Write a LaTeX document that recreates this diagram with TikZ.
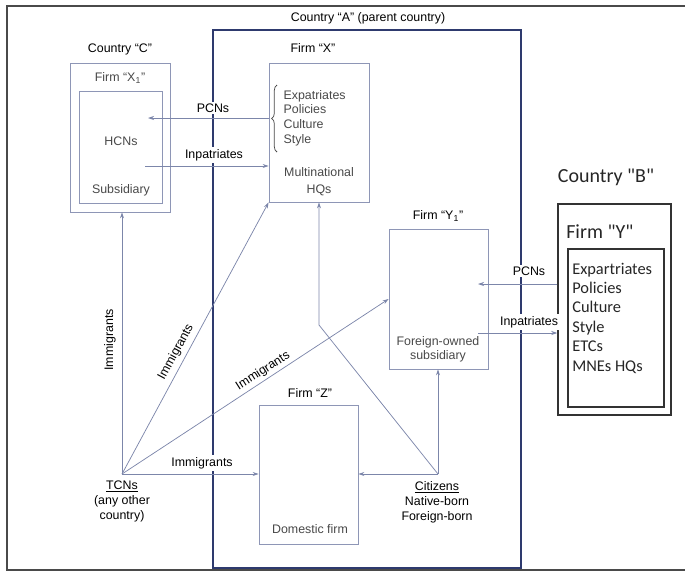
\documentclass[tikz,border=0pt]{standalone}
\usepackage{fontspec}
\setmainfont{Liberation Sans}
\newfontfamily\calib{Carlito}
\usetikzlibrary{arrows.meta,decorations.pathreplacing,fit,calc}
\definecolor{boxc}{HTML}{8E96B6}
\definecolor{navy}{HTML}{2E3A6E}
\definecolor{linec}{HTML}{7C86AA}
\definecolor{txtg}{HTML}{484848}
\definecolor{framec}{HTML}{4A4A4A}
\begin{document}
\begin{tikzpicture}[x=0.75pt,y=-0.75pt,
  box/.style={draw=boxc, line width=0.6pt, inner sep=0pt},
  bbox/.style={draw=black!80, line width=1.1pt, inner sep=0pt},
  lbl/.style={font=\fontsize{9.3}{11}\selectfont, text=black, inner sep=1pt},
  gtxt/.style={font=\fontsize{9.3}{11}\selectfont, text=txtg, inner sep=1pt},
  onl/.style={lbl, fill=white, inner sep=1.5pt},
  conn/.style={draw=linec, line width=0.55pt},
  arr/.style={conn, -{Stealth[length=4.5pt,width=3pt]}},
  btxt/.style={font=\calib\fontsize{15}{17}\selectfont, text=black!85, inner sep=0pt}
]
\useasboundingbox (0,0) rectangle (685,572);
% outer frame
\draw[framec, line width=1pt] (685,6) -- (7,6) -- (7,570) -- (685,570);
% boxes
\node[fit={(213,30) (521,568)}, draw=navy, line width=1.2pt, inner sep=0pt] (A) {};
\node[box, fit={(70,63) (170,212)}] (Cout) {};
\node[box, fit={(79,91) (162,203)}] (Cin) {};
\node[box, fit={(269,63) (369,202)}] (X) {};
\node[box, fit={(389,229) (488,369)}] (Y1) {};
\node[box, fit={(259,405) (358,544)}] (Z) {};
\node[bbox, fit={(558,204) (671,415)}] (Bout) {};
\node[bbox, fit={(568,249) (664,407)}] (Bin) {};

% coordinates
\coordinate (tcn) at (122,474);
\coordinate (cit) at (438,474);
\coordinate (bend) at (319,325);
\coordinate (pcxend) at (148,118);
\coordinate (inxst) at (145,166);
\coordinate (pcyend) at (478,284);
\coordinate (inyst) at (478,333);

% connectors
\draw[arr] (X.west |- pcxend) -- (pcxend);
\draw[arr] (inxst) -- (X.west |- inxst);
\draw[arr] (tcn) -- (tcn |- Cout.south);
\draw[arr] (tcn) -- (X.south west);
\draw[arr] (tcn) -- (Y1.west);
\draw[arr] (tcn) -- (tcn -| Z.west);
\draw[arr] (cit) -- (cit -| Z.east);
\draw[arr] (cit) -- (cit |- Y1.south);
\draw[arr] (cit) -- (bend) -- (bend |- X.south);
\draw[arr] (Bout.west |- pcyend) -- (pcyend);
\draw[arr] (inyst) -- (Bout.west |- inyst);

% brace
\draw[conn, draw=txtg, decorate, decoration={brace, amplitude=4pt}] (277,152) -- (277,85);

% labels
\node[lbl] (labA) at (368,18) {Country “A” (parent country)};
\node[lbl] (labC) at (120,49) {Country “C”};
\node[gtxt] (labX1) at (120,78) {Firm “X\textsubscript{1}”};
\node[gtxt] (hcn) at (121,141) {HCNs};
\node[gtxt] (subs) at (121,190) {Subsidiary};
\node[lbl] (labX) at (313,48) {Firm “X”};
\node[gtxt, anchor=west, align=left, font=\fontsize{9.3}{10.9}\selectfont] (xlist) at (282,118) {Expatriates\\Policies\\Culture\\Style};
\node[gtxt, align=center, font=\fontsize{9.3}{12.6}\selectfont] (mhq) at (319,182) {Multinational\\HQs};
\node[lbl] (labY1) at (438,216) {Firm “Y\textsubscript{1}”};
\node[gtxt, align=center, font=\fontsize{9.3}{10.5}\selectfont] (fos) at (438,349) {Foreign-owned\\subsidiary};
\node[lbl] (labZ) at (310,393) {Firm “Z”};
\node[gtxt] (dom) at (310,529) {Domestic firm};
\node[lbl, align=center, font=\fontsize{9.3}{11.2}\selectfont, anchor=north] (tcntxt) at (122,479) {\underline{TCNs}\\(any other\\country)};
\node[lbl, align=center, font=\fontsize{9.3}{11.2}\selectfont, anchor=north] (cittxt) at (437,480) {\underline{Citizens}\\Native-born\\Foreign-born};

\node[onl] (pcn1) at (213,108) {PCNs};
\node[onl] (inp1) at (214,155) {Inpatriates};
\node[onl] (pcn2) at (529,271) {PCNs};
\node[onl] (inp2) at (529,322) {Inpatriates};
\node[onl, fill=none] (im1) at (110,340) [rotate=90] {Immigrants};
\node[onl, fill=none] (im2) at (176,352) [rotate=61.6] {Immigrants};
\node[onl, fill=none] (im3) at (263,371) [rotate=32.6] {Immigrants};
\node[onl] (im4) at (202,463) {Immigrants};

% country B
\node[btxt] (labB) at (606,177) {Country "B"};
\node[btxt, anchor=west] (labY) at (566,232) {Firm "Y"};
\node[btxt, anchor=west, align=left, font=\calib\fontsize{12.3}{14.55}\selectfont] (ylist) at (572,318) {Expartriates\\Policies\\Culture\\Style\\ETCs\\MNEs HQs};
\end{tikzpicture}
\end{document}
